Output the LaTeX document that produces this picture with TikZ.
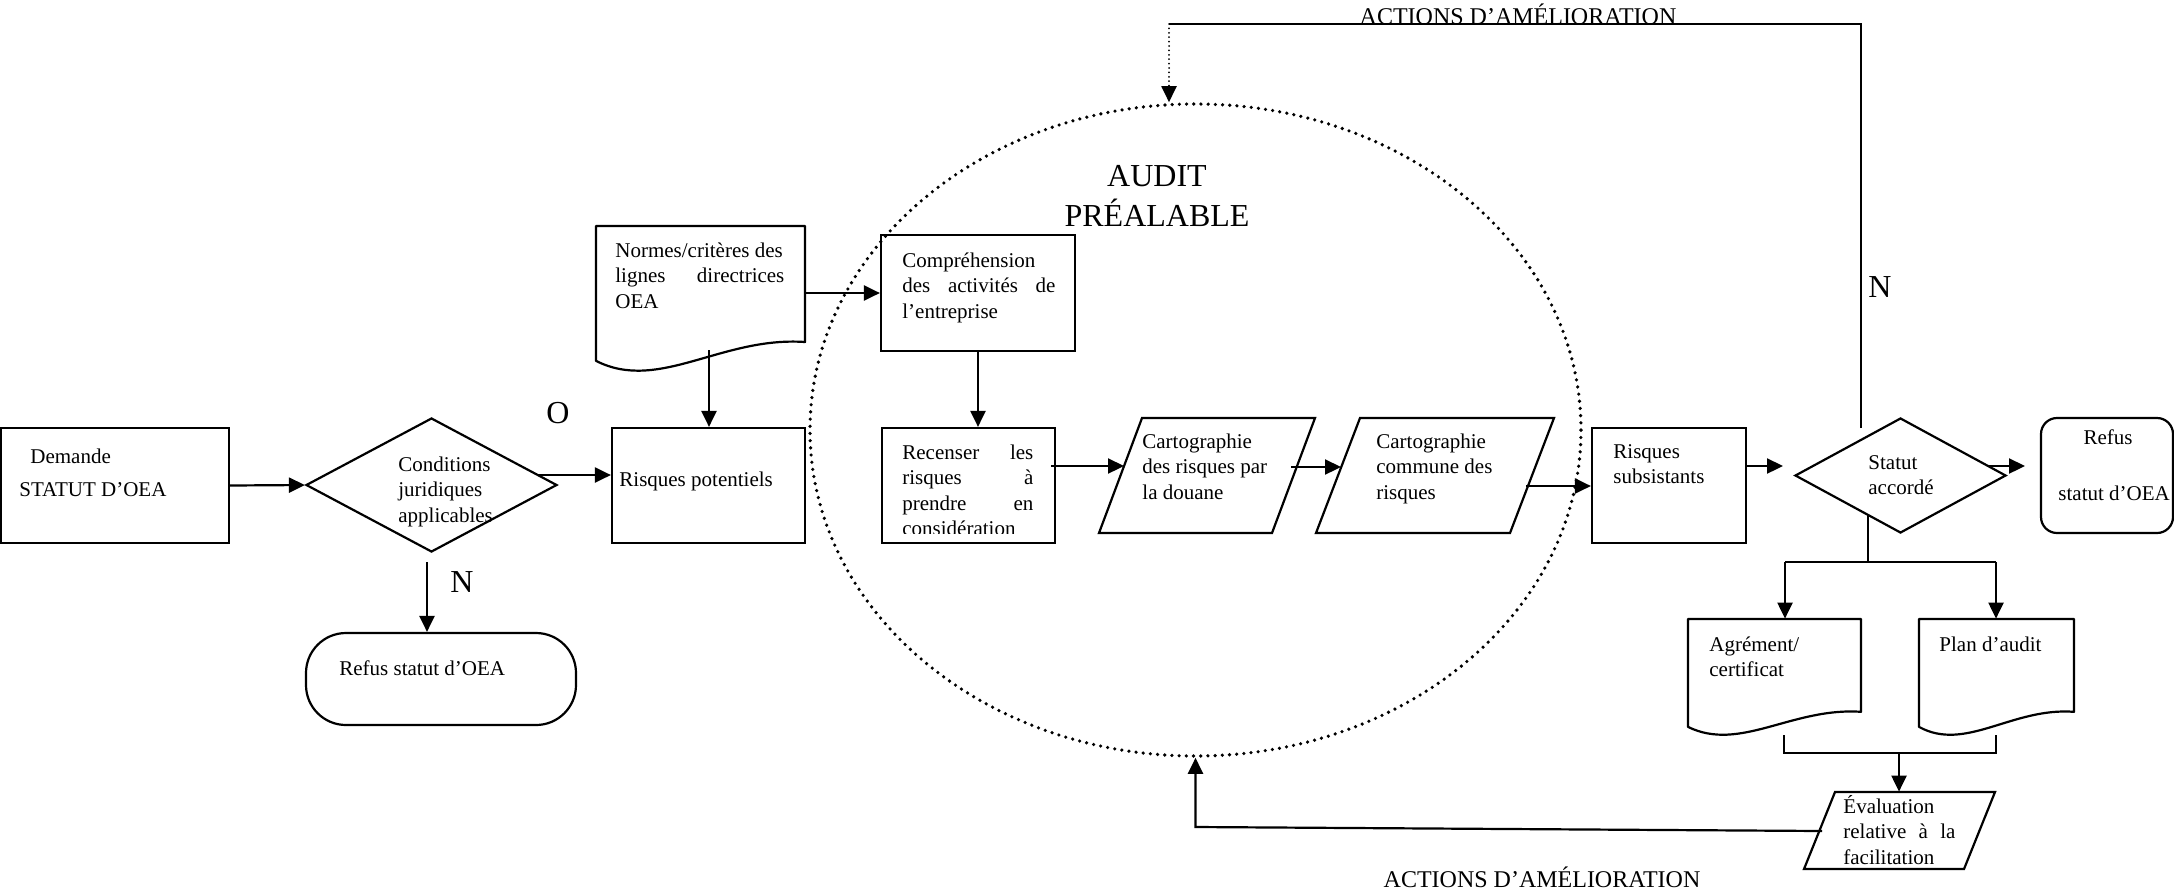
\documentclass[tikz,border=0pt]{standalone}
\usepackage{fontspec}
\setmainfont{Liberation Serif}
\usetikzlibrary{arrows.meta,shapes.geometric,calc}
\newcommand\fnt{\fontsize{10.5}{12.75}\selectfont}
\newcommand\docshape[4]{\draw[ln,line join=round] (#1,#2+0.93*#4) -- (#1,#2) -- (#1+#3,#2) -- (#1+#3,#2+0.8*#4) .. controls (#1+0.6*#3,#2+0.76*#4) and (#1+0.3*#3,#2+1.15*#4) .. (#1,#2+0.93*#4) -- cycle;}
\begin{document}
\begin{tikzpicture}[x=0.5pt,y=-0.5pt,
  ln/.style={line width=1.1pt},
  arr/.style={line width=1.1pt,-{Triangle[length=8pt,width=7.5pt]}},
  box/.style={draw,line width=1.1pt,inner sep=0pt,rectangle},
  ghost/.style={inner sep=0pt,rectangle},
  txt/.style={inner sep=0pt,anchor=north west,align=left,font=\fnt},
  big/.style={inner sep=0pt,font=\fontsize{16}{18}\selectfont},
  lbl/.style={inner sep=0pt,font=\fontsize{12}{14}\selectfont},
  dotline/.style={line width=1.8pt,dash pattern=on 0pt off 3.6pt,line cap=round},
  dotarr/.style={line width=1pt,dash pattern=on 0pt off 2.2pt,line cap=round,-{Triangle[length=8pt,width=7.5pt]}}
]
\useasboundingbox (0,0) rectangle (2174,890);

% ---------- left part ----------
\node[box,minimum width=114pt,minimum height=57.5pt] (dem) at (115,485.5) {};
\node[txt] (demt) at (19,445) {\strut\hspace*{5.5pt}Demande\\[4pt]STATUT D’OEA};

\node[diamond,draw,ln,inner sep=0pt,minimum width=125.5pt,minimum height=67pt] (cond) at (431.5,485) {};
\node[txt] (condt) at (398,453) {\strut Conditions\\juridiques\\applicables};
\draw[arr] (dem.east) -- (cond.west);

\node[big] (o) at (558,413) {O};

\node[box,minimum width=96.5pt,minimum height=57.5pt] (rp) at (708.5,485.5) {};
\node[txt] (rpt) at (619,468) {\strut Risques potentiels};
\coordinate (co) at (538,475);
\draw[arr] (co) -- (co -| rp.west);

\node[draw,ln,rounded corners=20pt,minimum width=135pt,minimum height=46pt,inner sep=0pt] (ref1) at (441,679) {};
\node[txt] (ref1t) at (339,657) {\strut Refus statut d’OEA};
\coordinate (cn) at (427,562);
\draw[arr] (cn) -- (cn |- ref1.north);
\node[big] (n1) at (462,582) {N};

% ---------- normes ----------
\docshape{596}{226}{209}{145}
\node[ghost,minimum width=104.5pt,minimum height=72.5pt] (normes) at (700.5,298.5) {};
\node[txt] (normest) at (615,239) {\strut Normes/critères des\\\hbox to 84.5pt{lignes\hfill directrices}\\OEA};

% ---------- audit ellipse ----------
\node[ellipse,draw,dotline,inner sep=0pt,minimum width=385.5pt,minimum height=326pt] (audit) at (1195.5,430) {};
\node[inner sep=0pt,anchor=north,align=center,font=\fontsize{16}{18}\selectfont] (auditt) at (1157,161) {\strut AUDIT\\PRÉALABLE};

\node[box,minimum width=97pt,minimum height=58pt] (compr) at (978,293) {};
\node[txt] (comprt) at (902,249) {\strut Compréhension\\\hbox to 76.5pt{des\hfill activités\hfill de}\\l’entreprise};
\draw[arr] (compr.west -| normes.east) -- (compr.west);
\coordinate (nb) at (709,350);
\draw[arr] (nb) -- (nb |- rp.north);

\node[box,minimum width=86.5pt,minimum height=57.5pt] (rec) at (968.5,485.5) {};
\begin{scope}
\clip (884,429) rectangle (1053,533);
\node[txt] (rect) at (902,441) {\strut\hbox to 65.5pt{Recenser\hfill les}\\\hbox to 65.5pt{risques\hfill à}\\\hbox to 65.5pt{prendre\hfill en}\\considération};
\end{scope}
\draw[arr] (compr.south) -- (compr.south |- rec.north);

% parallelograms
\draw[ln] (1142,418) -- (1315,418) -- (1272,533) -- (1099,533) -- cycle;
\node[ghost,minimum width=108pt,minimum height=57.5pt] (p1) at (1207,475.5) {};
\node[txt] (p1t) at (1142,430) {\strut Cartographie\\des risques par\\la douane};
\coordinate (r1) at (1051,466);
\coordinate (p1in) at (1124,466);
\draw[arr] (r1) -- (p1in);

\draw[ln] (1360,418) -- (1554,418) -- (1510,533) -- (1316,533) -- cycle;
\node[ghost,minimum width=119pt,minimum height=57.5pt] (p2) at (1435,475.5) {};
\node[txt] (p2t) at (1376,430) {\strut Cartographie\\commune des\\risques};
\coordinate (p1out) at (1291,467);
\coordinate (p2in) at (1341,467);
\draw[arr] (p1out) -- (p2in);

% ---------- right part ----------
\node[box,minimum width=77pt,minimum height=57.5pt] (rs) at (1669,485.5) {};
\node[txt] (rst) at (1613,440) {\strut Risques\\subsistants};
\coordinate (p2out) at (1526,486);
\draw[arr] (p2out) -- (p2out -| rs.west);

\node[diamond,draw,ln,inner sep=0pt,minimum width=105.5pt,minimum height=57.5pt] (st) at (1900.5,475.5) {};
\node[txt] (stt) at (1868,451) {\strut Statut\\accordé};
\coordinate (rso) at (1746,466);
\coordinate (sti) at (1783,466);
\draw[arr] (rso) -- (sti);

\node[draw,ln,rounded corners=8pt,minimum width=66pt,minimum height=57.5pt,inner sep=0pt] (ref2) at (2107,475.5) {};
\node[font=\fnt,inner sep=0pt,anchor=base] (ref2a) at (2108,444) {Refus};
\node[txt] (ref2b) at (2058,482) {\strut statut d’OEA};
\coordinate (sto) at (1987,466);
\coordinate (r2i) at (2025,466);
\draw[arr] (sto) -- (r2i);

% N loop to the top
\coordinate (nl) at (1861,428);
\coordinate (tr) at (1861,24);
\coordinate (tl) at (1169,24);
\draw[line width=1.3pt] (nl) -- (tr) -- (tl);
\draw[dotarr] (tl) -- (tl |- audit.north);
\node[big] (n2) at (1880,287) {N};
\node[lbl] (act1) at (1518,14) {ACTIONS D’AMÉLIORATION};

% branch below statut
\docshape{1688}{619}{173}{116}
\node[ghost,minimum width=86.5pt,minimum height=58pt] (agr) at (1774.5,677) {};
\node[txt] (agrt) at (1709,633) {\strut Agrément/\\certificat};
\docshape{1919}{619}{155}{116}
\node[ghost,minimum width=77.5pt,minimum height=58pt] (plan) at (1996.5,677) {};
\node[txt] (plant) at (1939,633) {\strut Plan d’audit};

\coordinate (sb) at (1868,515);
\coordinate (bl) at (1785,562);
\coordinate (br) at (1996,562);
\draw[ln] (sb) -- (sb |- bl);
\draw[ln] (bl) -- (br);
\draw[arr] (bl) -- (bl |- agr.north);
\draw[arr] (br) -- (br |- plan.north);

% merge to evaluation
\draw[ln] (1835,792) -- (1995,792) -- (1964,869) -- (1804,869) -- cycle;
\node[ghost,minimum width=95.5pt,minimum height=38.5pt] (ev) at (1899.5,830.5) {};
\node[txt] (evt) at (1843,795) {\strut Évaluation\\\hbox to 56pt{relative\hfill à\hfill la}\\facilitation};

\coordinate (ml) at (1784,735);
\coordinate (mr) at (1996,735);
\coordinate (mj) at (1899,753);
\draw[ln] (ml) -- (ml |- mj) -- (mr |- mj) -- (mr);
\draw[arr] (mj) -- (mj |- ev.north);

% feedback to audit
\coordinate (evl) at (1822,831);
\coordinate (fb) at (1195.5,827);
\draw[arr] (evl) -- (fb) -- (audit.south);
\node[lbl] (act2) at (1542,877) {ACTIONS D’AMÉLIORATION};
\end{tikzpicture}
\end{document}
